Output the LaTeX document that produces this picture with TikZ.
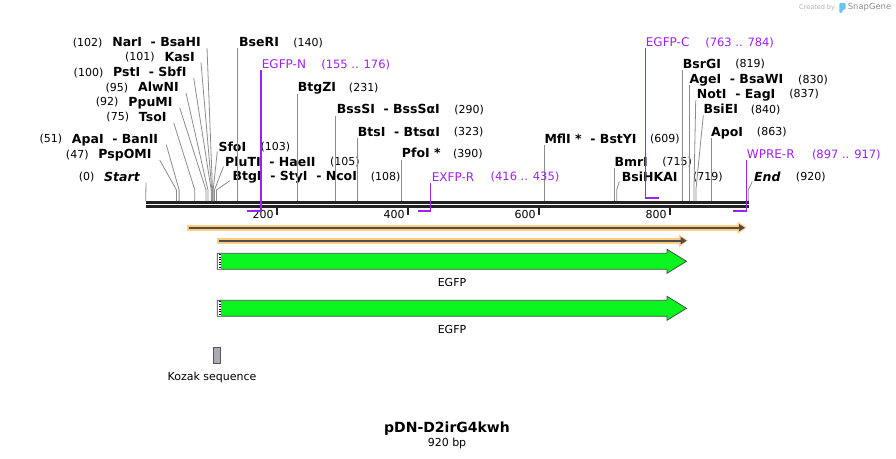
\documentclass[tikz,border=0pt]{standalone}
\usepackage{fontspec}
\setmainfont{DejaVu Sans}
\usepackage{tikz}
\usetikzlibrary{arrows.meta, positioning}
\definecolor{cutline}{HTML}{8C8C8C}
\definecolor{bbline}{HTML}{222222}
\definecolor{prmcol}{HTML}{A020F0}
\definecolor{orffill}{HTML}{FFCC80}
\definecolor{orfline}{HTML}{4D4D4D}
\definecolor{featfill}{HTML}{0AF51E}
\definecolor{featline}{HTML}{4D4D4D}
\definecolor{kozfill}{HTML}{A9ACB4}
\definecolor{kozline}{HTML}{555555}
\definecolor{wmtext}{HTML}{B3B3B3}
\definecolor{wmname}{HTML}{8F8F8F}
\definecolor{wmlogo}{HTML}{6CC3EE}
\tikzset{
  enz/.style     = {inner sep=0pt, font=\fontsize{12.5}{14}\selectfont\bfseries,
                    text height=9.1pt, text depth=0pt},
  enzit/.style   = {enz, font=\fontsize{12.5}{14}\selectfont\bfseries\itshape},
  num/.style     = {inner sep=0pt, font=\fontsize{11}{13}\selectfont,
                    text height=8pt, text depth=0pt},
  prm/.style     = {inner sep=0pt, text=prmcol, font=\fontsize{12}{14}\selectfont,
                    text height=8.75pt, text depth=0pt},
  prmrng/.style  = {prm, font=\fontsize{11.5}{13}\selectfont, text height=8.4pt},
  lbl/.style     = {num},
  ttl/.style     = {inner sep=0pt, font=\fontsize{14}{16}\selectfont\bfseries,
                    text height=10.2pt, text depth=0pt},
  cut/.style     = {draw=cutline, line width=0.8pt},
  prmline/.style = {draw=prmcol, line width=1.2pt},
  prmbar/.style  = {draw=prmcol, line width=2.4pt},
  backbone/.style= {draw=bbline},
  tickmark/.style= {draw=bbline, line width=2pt},
  orfhalo/.style = {draw=orffill, line width=6pt, -{Triangle[length=9pt, width=12pt]}},
  orfcore/.style = {draw=orfline, line width=2pt, -{Triangle[length=6pt, width=7pt]}},
  feat/.style    = {draw=featline, fill=featfill, line width=0.8pt},
  kozbox/.style  = {rectangle, draw=kozline, fill=kozfill, line width=0.8pt,
                    minimum width=7pt, minimum height=16pt, inner sep=0pt},
  wm/.style      = {inner sep=0pt, text=wmtext, font=\fontsize{6.5}{8}\selectfont},
}
\begin{document}
\begin{tikzpicture}[x=1pt, y=-1pt]
\useasboundingbox (0,0) rectangle (896,458);
\fill[white] (0,0) rectangle (896,458);

\foreach \p in {0,47,51,75,92,95,100,101,102,103,105,108,140,155,176,231,290,323,390,
                416,435,609,715,719,763,784,819,830,837,840,863,897,917,920}
  \coordinate (s\p) at ({145.7+0.655*\p},201);
\coordinate (elb) at (0,190);
\coordinate (pbl) at (0,211);
\coordinate (pbu) at (0,198);

\draw[backbone, line width=3pt]   (146,202.5) -- (749.3,202.5);
\draw[backbone, line width=2.6pt] (146,206.4) -- (749.3,206.4);
\foreach \t in {200,400,600,800} {
  \draw[tickmark] ({145.7+0.655*\t},208) -- ++(0,7);
  \node[num, anchor=east] (t\t) at ({142.7+0.655*\t},214) {\t};
}

\node[enz, anchor=east] (nar) at (201,42) {NarI~~- BsaHI};
\node[num, left=9.5pt of nar] (nar-n) {(102)};
\node[enz, anchor=east] (kas) at (195,56.7) {KasI};
\node[num, left=9.5pt of kas] (kas-n) {(101)};
\node[enz, anchor=east] (pst) at (186.7,72) {PstI~~- SbfI};
\node[num, left=9.5pt of pst] (pst-n) {(100)};
\node[enz, anchor=east] (alw) at (179,87) {AlwNI};
\node[num, left=9.5pt of alw] (alw-n) {(95)};
\node[enz, anchor=east] (ppu) at (172.7,101.7) {PpuMI};
\node[num, left=9.5pt of ppu] (ppu-n) {(92)};
\node[enz, anchor=east] (tso) at (166.7,116.7) {TsoI};
\node[num, left=9.5pt of tso] (tso-n) {(75)};
\node[enz, anchor=east] (apa) at (158.3,138.7) {ApaI~~- BanII};
\node[num, left=9.5pt of apa] (apa-n) {(51)};
\node[enz, anchor=east] (psp) at (151.7,154) {PspOMI};
\node[num, left=9.5pt of psp] (psp-n) {(47)};
\node[enzit, anchor=east] (start) at (140,176.7) {Start};
\node[num, left=9.5pt of start] (start-n) {(0)};
\draw[cut] ([shift={(6,6)}]nar.east) -- (s102 |- elb) -- (s102);
\draw[cut] ([shift={(6,6)}]kas.east) -- (s101 |- elb) -- (s101);
\draw[cut] ([shift={(7,6)}]pst.east) -- (s100 |- elb) -- (s100);
\draw[cut] ([shift={(7,6)}]alw.east) -- (s95 |- elb) -- (s95);
\draw[cut] ([shift={(7,6)}]ppu.east) -- (s92 |- elb) -- (s92);
\draw[cut] ([shift={(7,6)}]tso.east) -- (s75 |- elb) -- (s75);
\draw[cut] ([shift={(8,6)}]apa.east) -- (s51 |- elb) -- (s51);
\draw[cut] ([shift={(8,6)}]psp.east) -- (s47 |- elb) -- (s47);
\draw[cut] ([shift={(6,6)}]start.east) -- (s0);

\node[enz, anchor=west] (sfo) at (218.3,146.7) {SfoI};
\node[num, right=14pt of sfo] (sfo-n) {(103)};
\node[enz, anchor=west] (plu) at (225,161.7) {PluTI~~- HaeII};
\node[num, right=14pt of plu] (plu-n) {(105)};
\node[enz, anchor=west] (btg) at (232.3,176) {BtgI~~- StyI~~- NcoI};
\node[num, right=13.5pt of btg] (btg-n) {(108)};
\draw[cut] ([xshift=-1pt]sfo.south west) -- (s103 |- elb) -- (s103);
\draw[cut] ([xshift=-1.5pt]plu.south west) -- (s105 |- elb) -- (s105);
\draw[cut] ([xshift=-2.5pt]btg.south west) -- (s108 |- elb) -- (s108);

\node[enz, anchor=west] (bse) at (239,42) {BseRI};
\node[num, right=14pt of bse] (bse-n) {(140)};
\node[enz, anchor=west] (btgz) at (297.7,87.3) {BtgZI};
\node[num, right=12.5pt of btgz] (btgz-n) {(231)};
\node[enz, anchor=west] (bss) at (336.7,109.3) {BssSI~~- BssSαI};
\node[num, right=14pt of bss] (bss-n) {(290)};
\node[enz, anchor=west] (bts) at (357.7,131.7) {BtsI~~- BtsαI};
\node[num, right=13.5pt of bts] (bts-n) {(323)};
\node[enz, anchor=west] (pfo) at (401.7,153.3) {PfoI *};
\node[num, right=12pt of pfo] (pfo-n) {(390)};
\node[enz, anchor=west] (mfl) at (544.3,138.7) {MflI *~~- BstYI};
\node[num, right=13pt of mfl] (mfl-n) {(609)};
\node[enz, anchor=west] (bmr) at (614.3,161.7) {BmrI};
\node[num, right=14pt of bmr] (bmr-n) {(715)};
\node[enz, anchor=west] (bsih) at (621.7,176.7) {BsiHKAI};
\node[num, right=15pt of bsih] (bsih-n) {(719)};
\node[enz, anchor=west] (bsrg) at (682.7,63.7) {BsrGI};
\node[num, right=14pt of bsrg] (bsrg-n) {(819)};
\node[enz, anchor=west] (age) at (689.3,79) {AgeI~~- BsaWI};
\node[num, right=14.5pt of age] (age-n) {(830)};
\node[enz, anchor=west] (notl) at (696.7,93.7) {NotI~~- EagI};
\node[num, right=13.5pt of notl] (notl-n) {(837)};
\node[enz, anchor=west] (bsie) at (703.3,109) {BsiEI};
\node[num, right=12.5pt of bsie] (bsie-n) {(840)};
\node[enz, anchor=west] (apo) at (711,131.7) {ApoI};
\node[num, right=13.5pt of apo] (apo-n) {(863)};
\node[enzit, anchor=west] (endn) at (754,176.7) {End};
\node[num, right=15pt of endn] (endn-n) {(920)};
\draw[cut] ([yshift=-1.5pt]s140 |- bse.south) -- (s140);
\draw[cut] ([yshift=-1.5pt]s231 |- btgz.south) -- (s231);
\draw[cut] ([yshift=-1.5pt]s290 |- bss.south) -- (s290);
\draw[cut] ([yshift=-1.5pt]s323 |- bts.south) -- (s323);
\draw[cut] ([yshift=-1.5pt]s390 |- pfo.south) -- (s390);
\draw[cut] ([yshift=-1.5pt]s609 |- mfl.south) -- (s609);
\draw[cut] ([yshift=-1.5pt]s715 |- bmr.south) -- (s715);
\draw[cut] ([xshift=-2.4pt]bsih.south west) -- (s719 |- elb) -- (s719);
\draw[cut] ([yshift=-1.5pt]s819 |- bsrg.south) -- (s819);
\draw[cut] ([yshift=-1.5pt]s830 |- age.south) -- (s830);
\draw[cut] ([shift={(-1,2)}]notl.south west) -- (s837 |- elb) -- (s837);
\draw[cut] ([yshift=-1.5pt]bsie.south west) -- (s840 |- elb) -- (s840);
\draw[cut] ([yshift=-1.5pt]s863 |- apo.south) -- (s863);
\draw[cut] ([xshift=-1.7pt]endn.south west) -- (s920 |- elb) -- (s920);

\node[prm, anchor=west] (pn) at (261.7,64) {EGFP-N};
\node[prmrng, right=15pt of pn] (pn-r) {(155 .. 176)};
\node[prm, anchor=west] (pr) at (431.7,176.7) {EXFP-R};
\node[prmrng, right=16pt of pr] (pr-r) {(416 .. 435)};
\node[prm, anchor=west] (pc) at (645.7,42) {EGFP-C};
\node[prmrng, right=15.5pt of pc] (pc-r) {(763 .. 784)};
\node[prm, anchor=west] (pw) at (746.7,154.3) {WPRE-R};
\node[prmrng, right=17pt of pw] (pw-r) {(897 .. 917)};
\draw[prmline] ([yshift=-1.5pt]s176 |- pn.south) -- (s176 |- pbl);
\draw[prmbar]  (s155 |- pbl) -- ([xshift=0.6pt]s176 |- pbl);
\draw[prmline] ([yshift=-1.5pt]s435 |- pr.south) -- (s435 |- pbl);
\draw[prmbar]  (s416 |- pbl) -- ([xshift=0.6pt]s435 |- pbl);
\draw[prmline] ([yshift=-1.5pt]s763 |- pc.south) -- (s763 |- pbu);
\draw[prmbar]  ([xshift=-0.6pt]s763 |- pbu) -- (s784 |- pbu);
\draw[prmline] ([yshift=-1.5pt]s917 |- pw.south) -- (s917 |- pbl);
\draw[prmbar]  (s897 |- pbl) -- ([xshift=0.6pt]s917 |- pbl);

\draw[orfhalo] (187.3,227.7) -- (746.5,227.7);
\draw[orfcore] (189.3,227.7) -- (745,227.7);
\draw[orfhalo] (217.3,240.7) -- (688,240.7);
\draw[orfcore] (219.3,240.7) -- (686.7,240.7);

\draw[feat] (217.3,253.3) -- (667,253.3) -- (667,249.3) -- (686.5,261.3)
            -- (667,273.3) -- (667,269.3) -- (217.3,269.3) -- cycle;
\fill[white] (218,254) rectangle (221.3,268.6);
\draw[black, dotted, line width=0.5pt] (218.8,254) -- (218.8,268.6) (220.5,254) -- (220.5,268.6);
\node[lbl] (egfp1) at (452,282.7) {EGFP};
\draw[feat] (217.3,300.3) -- (667,300.3) -- (667,296.3) -- (686.5,308.3)
            -- (667,320.3) -- (667,316.3) -- (217.3,316.3) -- cycle;
\fill[white] (218,301) rectangle (221.3,315.6);
\draw[black, dotted, line width=0.5pt] (218.8,301) -- (218.8,315.6) (220.5,301) -- (220.5,315.6);
\node[lbl] (egfp2) at (452,329.3) {EGFP};

\node[kozbox] (koz) at (217,355.3) {};
\node[lbl] (koz-l) at (212,376.7) {Kozak sequence};

\node[ttl] (pname) at (447,427.7) {pDN-D2irG4kwh};
\node[lbl] (plen) at (447,442.7) {920 bp};

\node[wm, anchor=west] (wm-c) at (799,7.3) {Created by};
\fill[wmlogo, rounded corners=1pt] (839.3,3) -- (845.7,3) -- (845.7,9.3) -- (842.3,10)
      -- (842.3,12.8) -- (839.3,12.8) -- cycle;
\node[wm, anchor=west, text=wmname, font=\fontsize{8.4}{10}\selectfont] (wm-s) at (847.7,7.6) {SnapGene};
\end{tikzpicture}
\end{document}
